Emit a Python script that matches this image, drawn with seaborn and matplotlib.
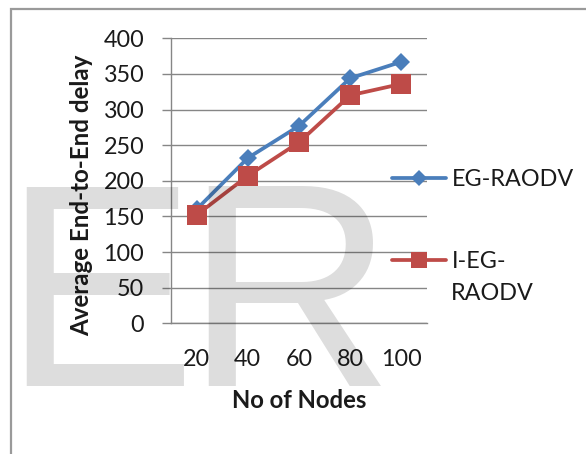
import matplotlib
matplotlib.use("Agg")
import matplotlib.pyplot as plt
import seaborn as sns
import pandas as pd
from matplotlib.patches import Rectangle

# ---- data ----
nodes = [20, 40, 60, 80, 100]
eg_raodv = [160, 232, 277, 344, 367]
i_eg_raodv = [152, 207, 254, 320, 336]
series_names = ["EG-RAODV", "I-EG-RAODV"]
legend_labels = ["EG-RAODV", "I-EG-"]
legend_second_line = "RAODV"
y_ticks = [0, 50, 100, 150, 200, 250, 300, 350, 400]
x_label = "No of Nodes"
y_label = "Average End-to-End delay"

df = pd.DataFrame({
    "nodes": nodes + nodes,
    "delay": eg_raodv + i_eg_raodv,
    "series": [series_names[0]] * len(nodes) + [series_names[1]] * len(nodes),
})

sns.set_style("white")
plt.rcParams["font.family"] = ["Lato", "DejaVu Sans"]

W, H = 586, 454
fig = plt.figure(figsize=(W / 100, H / 100), dpi=100)
ax = fig.add_axes([171 / W, 1 - 323.3 / H, 256 / W, 285 / H])

grid_c = "#868686"
txt_c = "#1a1a1a"
palette = {series_names[0]: "#4A7EBB", series_names[1]: "#BE4B48"}
sns.lineplot(data=df, x="nodes", y="delay", hue="series", style="series",
             markers={series_names[0]: "D", series_names[1]: "s"},
             dashes=False, palette=palette, linewidth=2.7,
             markeredgewidth=0, legend=False, ax=ax, zorder=3)
lines = ax.get_lines()
lines[0].set_markersize(9.5)
lines[1].set_markersize(14.2)

ax.set_xlim(10, 110)
ax.set_ylim(0, 400)
ax.set_xticks(nodes)
ax.set_xticklabels([str(n) for n in nodes])
ax.set_yticks(y_ticks)
ax.yaxis.grid(True, color=grid_c, lw=1.0)
ax.xaxis.grid(False)
ax.set_axisbelow(True)
for s in ["top", "right"]:
    ax.spines[s].set_visible(False)
for s in ["left", "bottom"]:
    ax.spines[s].set_color(grid_c)
    ax.spines[s].set_linewidth(1.0)
ax.tick_params(axis="y", left=True, length=6.7, width=1.0, color=grid_c,
               pad=12.5, labelsize=16.8, labelcolor=txt_c)
ax.tick_params(axis="x", bottom=False, length=0, pad=18.5,
               labelsize=16.8, labelcolor=txt_c)

ax.set_xlabel(x_label, fontsize=17.2, fontweight="bold", color=txt_c)
ax.set_ylabel(y_label, fontsize=17.4, fontweight="bold", color=txt_c)
ax.xaxis.set_label_coords(0.5, (323.3 - 389) / 285)
ax.yaxis.set_label_coords((93 - 171) / 256, (323.3 - 195) / 285)

leg = ax.legend(lines, legend_labels, loc="upper left",
                bbox_to_anchor=(392 / W, 1 - 169 / H),
                bbox_transform=fig.transFigure, frameon=False,
                fontsize=16.8, borderpad=0, borderaxespad=0,
                handlelength=2.3, handletextpad=0.25, labelspacing=2.6,
                markerscale=0.85, labelcolor=txt_c)
fig.text(451 / W, 1 - 300 / H, legend_second_line, ha="left", va="baseline",
         fontsize=16.8, color=txt_c)

# outer frame
fig.patches.append(Rectangle((11 / W, -0.1), 1.2, 1 - 9 / H + 0.1,
                             transform=fig.transFigure, fill=False,
                             edgecolor="#9a9a9a", lw=1.6, zorder=0))

# watermark
em = 290
for letter, x_ink, bearing in [("E", 25, 0.079), ("R", 207, 0.0786)]:
    fig.text((x_ink - bearing * em) / W, 1 - 386 / H, letter,
             fontsize=em * 0.72, family="Liberation Sans",
             color="black", alpha=0.135, ha="left", va="baseline",
             zorder=10)

fig.savefig("out.png", dpi=100)
